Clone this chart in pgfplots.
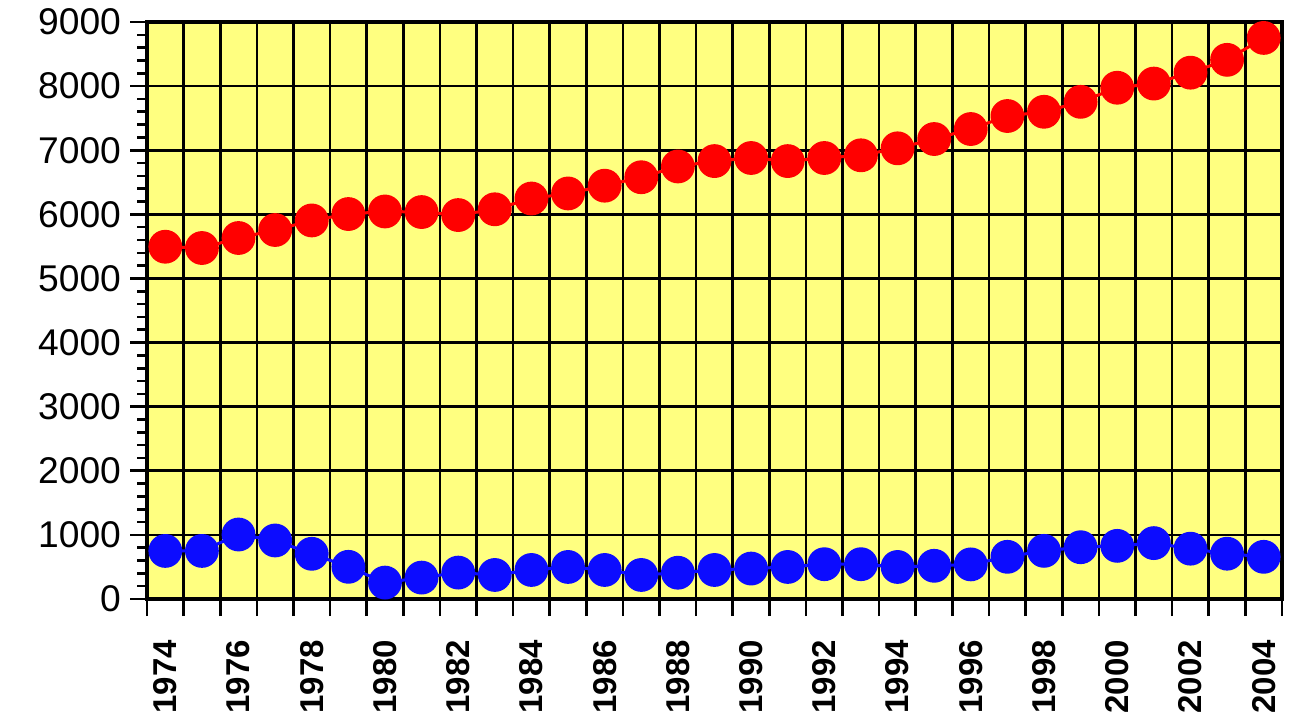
\documentclass[border=0pt]{standalone}
\usepackage{pgfplots}
\pgfplotsset{compat=1.18}
\usepackage{fontspec}
\setmainfont{Liberation Sans}
\definecolor{bgyellow}{RGB}{255,255,128}
\definecolor{myred}{RGB}{255,0,0}
\definecolor{myblue}{RGB}{12,12,255}
\begin{document}
\begin{tikzpicture}
\path[use as bounding box] (-73.5pt,-60.5pt) rectangle (579.5pt,299.5pt);
\begin{axis}[
  at={(0,0)}, anchor=south west,
  scale only axis,
  width=567.5pt, height=288.5pt,
  xmin=1973.5, xmax=2004.5,
  ymin=0, ymax=9000,
  axis background/.style={fill=bgyellow},
  axis line style={line width=2pt},
  tick pos=left,
  tick align=outside,
  xtick={1973.5,1974.5,...,2004.5},
  xticklabels={},
  ytick={0,1000,...,9000},
  minor y tick num=4,
  major tick length=8.5pt,
  minor tick length=5pt,
  every tick/.style={black, line width=1.3pt},
  grid=major,
  major grid style={black, line width=1.3pt},
  /pgf/number format/1000 sep={},
  /pgf/number format/assume math mode=true,
  yticklabel style={font=\fontsize{18.6}{19}\selectfont, xshift=-1pt},
  extra x ticks={1974,1976,...,2004},
  extra x tick style={major tick length=0pt, grid=none,
    tick label style={font=\fontsize{16.5}{17}\selectfont\bfseries, rotate=90, anchor=east, xshift=-17pt}},
  extra x tick labels={1974,1976,1978,1980,1982,1984,1986,1988,1990,1992,1994,1996,1998,2000,2002,2004},
  clip=false,
]
\addplot[myred, line width=1.5pt, mark=*, mark size=7.7pt, mark options={fill=myred, draw=none}] coordinates {
(1974,5495) (1975,5475) (1976,5631) (1977,5756) (1978,5905) (1979,6005)
(1980,6045) (1981,6036) (1982,5989) (1983,6079) (1984,6247) (1985,6326)
(1986,6447) (1987,6579) (1988,6747) (1989,6831) (1990,6879) (1991,6831)
(1992,6879) (1993,6921) (1994,7030) (1995,7175) (1996,7331) (1997,7534)
(1998,7600) (1999,7755) (2000,7975) (2001,8040) (2002,8210) (2003,8410)
(2004,8752)
};
\addplot[myblue, line width=1.5pt, mark=*, mark size=7.7pt, mark options={fill=myblue, draw=none}] coordinates {
(1974,750) (1975,750) (1976,1006) (1977,913) (1978,705) (1979,502)
(1980,256) (1981,334) (1982,412) (1983,375) (1984,453) (1985,500)
(1986,453) (1987,375) (1988,410) (1989,453) (1990,475) (1991,500)
(1992,543) (1993,543) (1994,500) (1995,518) (1996,540) (1997,658)
(1998,751) (1999,808) (2000,829) (2001,872) (2002,785) (2003,707)
(2004,658)
};
\end{axis}
\end{tikzpicture}
\end{document}
